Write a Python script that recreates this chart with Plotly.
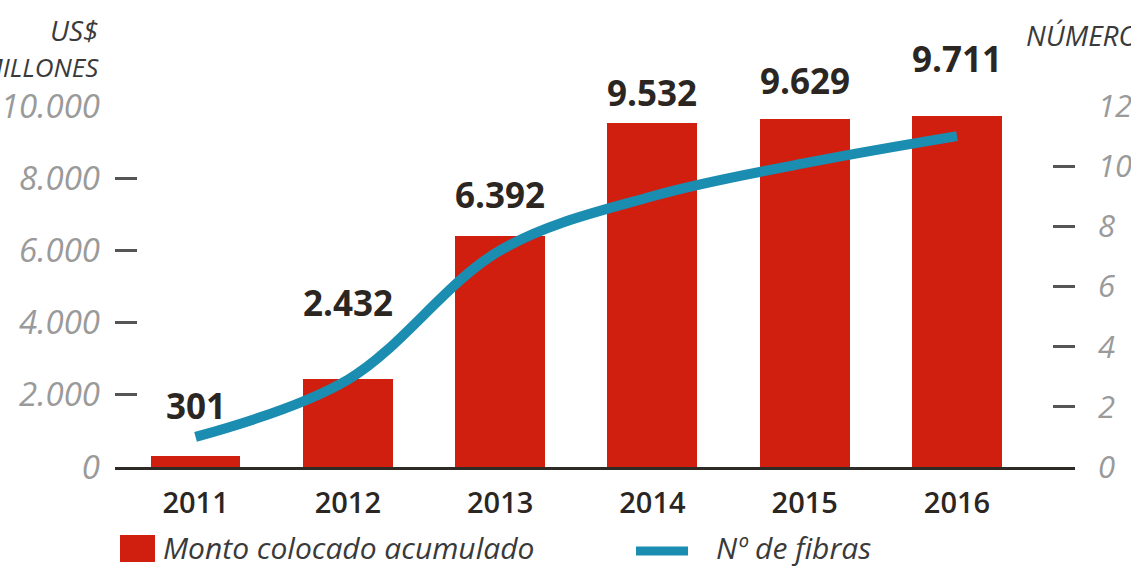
import plotly.graph_objects as go

years = ["2011", "2012", "2013", "2014", "2015", "2016"]
monto = [301, 2432, 6392, 9532, 9629, 9711]
monto_labels = ["301", "2.432", "6.392", "9.532", "9.629", "9.711"]
fibras = [1.0, 2.9, 7.2, 9.0, 10.1, 11.0]
left_ticks = [0, 2000, 4000, 6000, 8000, 10000]
left_ticktext = ["0", "2.000", "4.000", "6.000", "8.000", "10.000"]
right_ticks = [0, 2, 4, 6, 8, 10, 12]

# label offsets above bars (px), style only
label_shift = [51, 77, 42, 30, 39, 58]

xs = list(range(len(years)))

RED = "#d01e0f"
BLUE = "#1a8db1"
DARK = "#2b2622"
GRAY = "#9a9a9a"
TICK = "#555555"

fig = go.Figure()
fig.add_trace(go.Bar(x=xs, y=monto, marker=dict(color=RED, line=dict(width=0)),
                     width=0.59, yaxis="y", showlegend=False, hoverinfo="skip"))
fig.add_trace(go.Scatter(x=xs, y=fibras, mode="lines", yaxis="y2",
                         line=dict(color=BLUE, width=10, shape="spline", smoothing=1.0),
                         showlegend=False, hoverinfo="skip"))

annotations = []
for i, (v, t, s) in enumerate(zip(monto, monto_labels, label_shift)):
    annotations.append(dict(x=i, y=v, xref="x", yref="y", text=t, showarrow=False,
                            yanchor="middle", yshift=s,
                            font=dict(family="Open Sans", size=35, color=DARK, weight=700)))

# axis titles (cropped by page edge as in reference)
annotations.append(dict(xref="paper", yref="paper", x=(101 - 115) / 960, y=(467 - 30) / 361,
                        xanchor="right", yanchor="middle", text="<i>US$</i>", showarrow=False,
                        font=dict(family="Open Sans", size=28, color="#3a3a3a")))
annotations.append(dict(xref="paper", yref="paper", x=(101 - 115) / 960, y=(467 - 67) / 361,
                        xanchor="right", yanchor="middle", text="<i>MILLONES</i>", showarrow=False,
                        font=dict(family="Open Sans", size=26, color="#3a3a3a")))
annotations.append(dict(xref="paper", yref="paper", x=(1024 - 115) / 960, y=(467 - 35) / 361,
                        xanchor="left", yanchor="middle", text="<i>NÚMERO DE FIBRAS</i>", showarrow=False,
                        font=dict(family="Open Sans", size=28, color="#3a3a3a")))

# legend
annotations.append(dict(xref="paper", yref="paper", x=(161 - 115) / 960, y=(467 - 547) / 361,
                        xanchor="left", yanchor="middle", text="<i>Monto colocado acumulado</i>",
                        showarrow=False, font=dict(family="Open Sans", size=30, color="#3a3a3a")))
annotations.append(dict(xref="paper", yref="paper", x=(714 - 115) / 960, y=(467 - 547) / 361,
                        xanchor="left", yanchor="middle", text="<i>Nº de fibras</i>",
                        showarrow=False, font=dict(family="Open Sans", size=30, color="#3a3a3a")))

shapes = [
    dict(type="rect", xref="paper", yref="paper",
         x0=(120 - 115) / 960, x1=(155 - 115) / 960,
         y0=(467 - 562) / 361, y1=(467 - 535) / 361,
         fillcolor=RED, line=dict(width=0)),
    dict(type="line", xref="paper", yref="paper",
         x0=(636 - 115) / 960, x1=(688 - 115) / 960,
         y0=(467 - 551) / 361, y1=(467 - 551) / 361,
         line=dict(color=BLUE, width=9)),
]

fig.update_layout(
    width=1131, height=567,
    margin=dict(l=115, r=56, t=106, b=100, pad=0, autoexpand=False),
    paper_bgcolor="white", plot_bgcolor="white",
    bargap=0,
    xaxis=dict(range=[-0.529, 5.775], tickvals=xs, ticktext=years, automargin=False,
               showgrid=False, zeroline=False, showline=True, linecolor="#2e2a26", linewidth=3,
               ticks="", ticklabelstandoff=8,
               tickfont=dict(family="Open Sans", size=29, color=DARK, weight=600)),
    yaxis=dict(range=[0, 10000], tickvals=left_ticks, ticktext=left_ticktext, automargin=False,
               showgrid=False, zeroline=False, showline=False,
               ticks="inside", ticklen=22, tickwidth=2.5, tickcolor=TICK,
               ticklabelstandoff=14,
               tickfont=dict(family="Open Sans", size=33, color=GRAY, style="italic")),
    yaxis2=dict(range=[0, 12], tickvals=right_ticks, overlaying="y", side="right", automargin=False,
                showgrid=False, zeroline=False, showline=False,
                ticks="inside", ticklen=22, tickwidth=2.5, tickcolor=TICK,
                ticklabelstandoff=22,
                tickfont=dict(family="Open Sans", size=31, color=GRAY, style="italic")),
    annotations=annotations,
    shapes=shapes,
)

fig.write_html("out.html")
